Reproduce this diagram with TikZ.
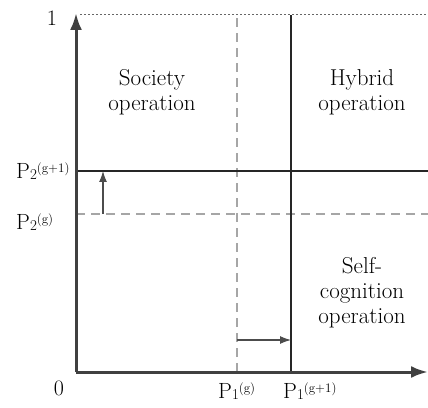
\documentclass[tikz,border=0pt]{standalone}
\usepackage{fontspec}
\usetikzlibrary{arrows.meta}
\newcommand{\plab}[2]{P\raisebox{-1pt}{\fontsize{15}{15}\selectfont #1}\raisebox{6pt}{\fontsize{13}{13}\selectfont (#2)}}
\tikzset{
  axis/.style={draw=black!75, line width=3pt, -{Latex[length=17pt,width=12pt]}},
  bound/.style={draw=black!85, line width=1.5pt},
  oldbound/.style={draw=black!35, line width=1.8pt, dash pattern=on 9pt off 6pt},
  movearrow/.style={draw=black!70, line width=1.1pt, -{Latex[length=11pt,width=8pt]}},
  region/.style={align=center, font=\fontsize{23}{25}\selectfont},
  ticklabel/.style={font=\fontsize{22}{24}\selectfont},
  plabel/.style={anchor=base west, inner sep=0pt, font=\fontsize{22}{24}\selectfont}
}
\begin{document}
\begin{tikzpicture}[x=1pt,y=1pt]
  \useasboundingbox (0,0) rectangle (428,407);
  % axes
  \coordinate (O) at (76,35);
  \coordinate (ytop) at (76,394);
  \coordinate (xend) at (428,35);
  \coordinate (tl) at (80,392);
  \coordinate (tr) at (428,392);
  \draw[black!60, line width=1pt, dash pattern=on 2pt off 2pt] (tl) -- (tr);
  % previous generation (dashed)
  \coordinate (p2g) at (76,193);
  \coordinate (p2gr) at (428,193);
  \coordinate (p1g) at (237,35);
  \coordinate (p1gt) at (237,392);
  \draw[oldbound] (p2g) -- (p2gr);
  \draw[oldbound] (p1g) -- (p1gt);
  % new generation (solid)
  \coordinate (p2n) at (76,236);
  \coordinate (p2nr) at (428,236);
  \coordinate (p1n) at (291,35);
  \coordinate (p1nt) at (291,392);
  \draw[bound] (p2n) -- (p2nr);
  \draw[bound] (p1n) -- (p1nt);
  \draw[axis] (O) -- (ytop);
  \draw[axis] (O) -- (xend);
  % shifts
  \coordinate (upa) at (103,193);
  \coordinate (upb) at (103,236);
  \coordinate (rta) at (237,67);
  \coordinate (rtb) at (291,67);
  \draw[movearrow] (upa) -- (upb);
  \draw[movearrow] (rta) -- (rtb);
  % tick labels
  \node[ticklabel] (one) at (52,389) {1};
  \node[ticklabel] (zero) at (59,19) {0};
  \node[plabel] (lp2n) at (16,228) {\plab{2}{g+1}};
  \node[plabel] (lp2g) at (16,177) {\plab{2}{g}};
  \node[plabel] (lp1g) at (218,9) {\plab{1}{g}};
  \node[plabel] (lp1n) at (283,9) {\plab{1}{g+1}};
  % regions
  \node[region] (society) at (152,315) {Society\\operation};
  \node[region] (hybrid) at (362,315) {Hybrid\\operation};
  \node[region] (self) at (362,114) {Self-\\cognition\\operation};
\end{tikzpicture}
\end{document}
